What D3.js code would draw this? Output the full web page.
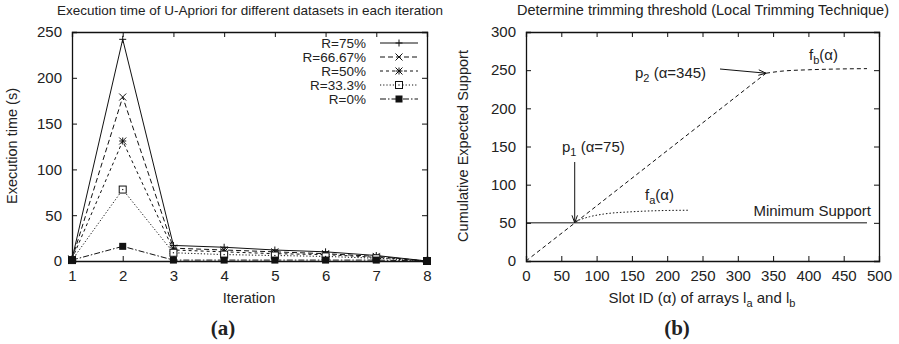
<!DOCTYPE html>
<html>
<head>
<meta charset="utf-8">
<script src="https://cdn.jsdelivr.net/npm/d3@7"></script>
<style>
  body { margin: 0; background: #fff; }
  svg text { font-family: "Liberation Sans", Arial, sans-serif; fill: #222; }
</style>
</head>
<body>
<svg id="chart" width="899" height="344"></svg>
<script>
// Datos (a)
const iterations = [1, 2, 3, 4, 5, 6, 7, 8];
const seriesNames = ['R=75%', 'R=66.67%', 'R=50%', 'R=33.3%', 'R=0%'];
const r75 = [2, 242, 17, 15, 12, 10, 6, 0];
const r6667 = [2, 179, 14, 12, 10, 8, 5, 0];
const r50 = [2, 131, 12, 10, 8, 7, 4, 0];
const r333 = [1, 78, 9, 7, 6, 5, 3, 0];
const r0 = [1, 16, 1, 1, 1, 1, 1, 0];
const yTicksA = [0, 50, 100, 150, 200, 250];

// Datos (b)
const mainX = [0, 68, 340];
const mainY = [0, 49, 246];
const faX = [70, 90, 110, 150, 190, 230];
const faY = [52, 58, 61.5, 64.5, 66, 66.5];
const fbX = [340, 360, 400, 440, 483];
const fbY = [246, 248.5, 250.5, 251.5, 252];
const minSupport = 50;
const minSupportEnd = 483;
const xTicksB = [0, 50, 100, 150, 200, 250, 300, 350, 400, 450, 500];
const yTicksB = [0, 50, 100, 150, 200, 250, 300];

const svg = d3.select('#chart');

//Estilos de lineas y marcadores
const dashes = ['none', '5,3', '3,3', '1.2,2', '6,2,1.5,2'];
const markers = ['plus', 'cross', 'star', 'openSquare', 'filledSquare'];

function drawMarker(g, type, cx, cy) {
    const s = 3.5;
    if (type === 'plus' || type === 'star') {
        g.append('path').attr('d', `M${cx - s},${cy}H${cx + s}M${cx},${cy - s}V${cy + s}`)
            .attr('stroke', '#111').attr('stroke-width', 1);
    }
    if (type === 'cross' || type === 'star') {
        g.append('path').attr('d', `M${cx - s},${cy - s}L${cx + s},${cy + s}M${cx - s},${cy + s}L${cx + s},${cy - s}`)
            .attr('stroke', '#111').attr('stroke-width', 1);
    }
    if (type === 'openSquare') {
        g.append('rect').attr('x', cx - s).attr('y', cy - s).attr('width', 2 * s).attr('height', 2 * s)
            .attr('fill', '#fff').attr('stroke', '#111').attr('stroke-width', 1);
        g.append('rect').attr('x', cx - 0.6).attr('y', cy - 0.6).attr('width', 1.2).attr('height', 1.2).attr('fill', '#111');
    }
    if (type === 'filledSquare') {
        g.append('rect').attr('x', cx - s).attr('y', cy - s).attr('width', 2 * s).attr('height', 2 * s)
            .attr('fill', '#111');
    }
}

// Ejes estilo gnuplot: marco con ticks hacia dentro en los cuatro lados
function frame(x, y, xTicks, yTicks) {
    const g = svg.append('g');
    const [x0, x1] = x.range();
    const [y0, y1] = y.range();
    g.append('g').attr('transform', `translate(0,${y0})`)
        .call(d3.axisBottom(x).tickValues(xTicks).tickSize(-5).tickPadding(9).tickFormat(d3.format('d')));
    g.append('g').attr('transform', `translate(0,${y1})`)
        .call(d3.axisTop(x).tickValues(xTicks).tickSize(-5).tickFormat(''));
    g.append('g').attr('transform', `translate(${x0},0)`)
        .call(d3.axisLeft(y).tickValues(yTicks).tickSize(-5).tickPadding(10).tickFormat(d3.format('d')));
    g.append('g').attr('transform', `translate(${x1},0)`)
        .call(d3.axisRight(y).tickValues(yTicks).tickSize(-5).tickFormat(''));
    g.selectAll('.domain').attr('stroke', '#111').attr('stroke-width', 1.3);
    g.selectAll('.tick line').attr('stroke', '#111');
    g.selectAll('.tick text').attr('font-size', 15).attr('font-family', '"Liberation Sans", Arial, sans-serif').attr('fill', '#222');
    return g;
}

/////
// (a)
/////
const xA = d3.scaleLinear().domain([1, 8]).range([72, 427]);
const yA = d3.scaleLinear().domain([0, 250]).range([261, 32]);
frame(xA, yA, iterations, yTicksA);

const allSeries = [r75, r6667, r50, r333, r0];
const lineA = d3.line().x((d, i) => xA(iterations[i])).y(d => yA(d));

allSeries.forEach(function(vals, k) {
    const g = svg.append('g');
    g.append('path').datum(vals).attr('d', lineA)
        .attr('fill', 'none').attr('stroke', '#111').attr('stroke-width', 1)
        .attr('stroke-dasharray', dashes[k]);
    vals.forEach((v, i) => drawMarker(g, markers[k], xA(iterations[i]), yA(v)));
});

//Leyenda
const legend = svg.append('g');
seriesNames.forEach(function(name, k) {
    const ly = 43 + k * 14;
    legend.append('text').attr('x', 366).attr('y', ly).attr('dy', '0.35em')
        .attr('text-anchor', 'end').attr('font-size', 13.5).text(name);
    legend.append('line').attr('x1', 380).attr('x2', 418).attr('y1', ly).attr('y2', ly)
        .attr('stroke', '#111').attr('stroke-dasharray', dashes[k]);
    drawMarker(legend, markers[k], 399, ly);
});

svg.append('text').attr('x', 250).attr('y', 10).attr('dy', '0.35em').attr('text-anchor', 'middle')
    .attr('font-size', 13.5).text('Execution time of U-Apriori for different datasets in each iteration');
svg.append('text').attr('x', 249).attr('y', 298).attr('dy', '0.35em').attr('text-anchor', 'middle')
    .attr('font-size', 14.5).text('Iteration');
svg.append('text').attr('transform', 'translate(12,146) rotate(-90)').attr('dy', '0.35em')
    .attr('text-anchor', 'middle').attr('font-size', 14.5).text('Execution time (s)');
svg.append('text').attr('x', 223).attr('y', 328).attr('dy', '0.35em').attr('text-anchor', 'middle')
    .attr('font-size', 21).attr('font-weight', 'bold').style('font-family', '"Liberation Serif", serif').text('(a)');

/////
// (b)
/////
const xB = d3.scaleLinear().domain([0, 500]).range([526, 879]);
const yB = d3.scaleLinear().domain([0, 300]).range([261, 32]);
frame(xB, yB, xTicksB, yTicksB);

const lineB = d3.line().x(d => xB(d[0])).y(d => yB(d[1]));
const zipped = (xs, ys) => xs.map((v, i) => [v, ys[i]]);

svg.append('path').datum([[0, minSupport], [minSupportEnd, minSupport]]).attr('d', lineB)
    .attr('fill', 'none').attr('stroke', '#111').attr('stroke-width', 1);
svg.append('path').datum(zipped(mainX, mainY)).attr('d', lineB)
    .attr('fill', 'none').attr('stroke', '#111').attr('stroke-dasharray', '4,3');
svg.append('path').datum(zipped(fbX, fbY)).attr('d', d3.line().x(d => xB(d[0])).y(d => yB(d[1])).curve(d3.curveMonotoneX))
    .attr('fill', 'none').attr('stroke', '#111').attr('stroke-dasharray', '4,3');
svg.append('path').datum(zipped(faX, faY)).attr('d', d3.line().x(d => xB(d[0])).y(d => yB(d[1])).curve(d3.curveMonotoneX))
    .attr('fill', 'none').attr('stroke', '#111').attr('stroke-dasharray', '1.5,2');

//Flechas
function arrow(xa, ya, xb, yb) {
    const ang = Math.atan2(yb - ya, xb - xa), h = 8, w = 0.35;
    const p = `M${xa},${ya}L${xb},${yb}` +
        `M${xb - h * Math.cos(ang - w)},${yb - h * Math.sin(ang - w)}L${xb},${yb}` +
        `L${xb - h * Math.cos(ang + w)},${yb - h * Math.sin(ang + w)}`;
    svg.append('path').attr('d', p).attr('fill', 'none').attr('stroke', '#111').attr('stroke-width', 1);
}
arrow(xB(69), 162, xB(69), yB(50));
arrow(720, 69, xB(340), yB(246));

function label(x, y, base, sub, rest, anchor, size) {
    const t = svg.append('text').attr('x', x).attr('y', y).attr('dy', '0.35em')
        .attr('font-size', size || 15).attr('text-anchor', anchor || 'start');
    t.append('tspan').text(base);
    if (sub) t.append('tspan').attr('font-size', 11).attr('dy', 4).text(sub);
    if (rest) t.append('tspan').attr('dy', sub ? -4 : 0).text(rest);
    return t;
}
label(562, 147, 'p', '1', ' (α=75)');
label(635, 73, 'p', '2', ' (α=345)');
label(645, 195, 'f', 'a', '(α)');
label(809, 55, 'f', 'b', '(α)');
label(871, 211, 'Minimum Support', null, null, 'end');

svg.append('text').attr('x', 703).attr('y', 10).attr('dy', '0.35em').attr('text-anchor', 'middle')
    .attr('font-size', 14.5).text('Determine trimming threshold (Local Trimming Technique)');
label(702, 298, 'Slot ID (α) of arrays l', 'a', ' and l', 'middle').append('tspan')
    .attr('font-size', 11).attr('dy', 4).text('b');
svg.append('text').attr('transform', 'translate(463,146) rotate(-90)').attr('dy', '0.35em')
    .attr('text-anchor', 'middle').attr('font-size', 14.5).text('Cumulative Expected Support');
svg.append('text').attr('x', 677).attr('y', 328).attr('dy', '0.35em').attr('text-anchor', 'middle')
    .attr('font-size', 21).attr('font-weight', 'bold').style('font-family', '"Liberation Serif", serif').text('(b)');
</script>
</body>
</html>
